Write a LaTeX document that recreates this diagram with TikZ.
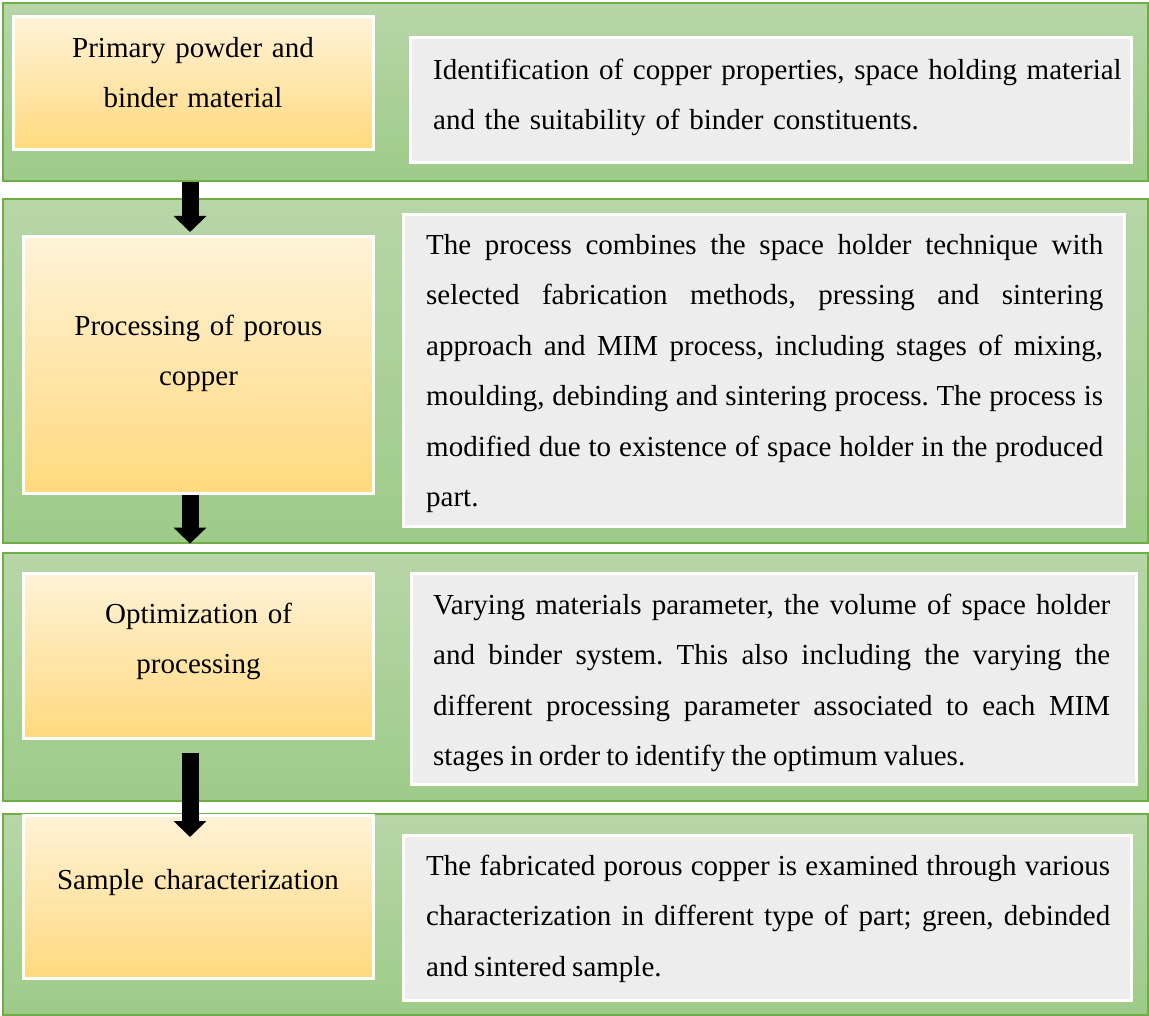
\documentclass[tikz,border=0pt]{standalone}
\usepackage{fontspec}
\setmainfont{Liberation Serif}[WordSpace=0.85]
\usetikzlibrary{arrows.meta}

\definecolor{bandtop}{RGB}{183,214,168}
\definecolor{bandbot}{RGB}{158,203,137}
\definecolor{bandline}{RGB}{112,173,71}
\definecolor{goldtop}{RGB}{255,242,216}
\definecolor{goldbot}{RGB}{255,217,125}
\definecolor{panel}{RGB}{237,237,237}

\begin{document}
\frenchspacing
\begin{tikzpicture}[x=1pt, y=-1pt,
    txt/.style={font=\fontsize{29}{50.5}\selectfont, inner sep=0pt,
      execute at begin node={\tolerance=9999\emergencystretch=0pt\hyphenpenalty=10000}},
    down/.style={line width=17pt, -{Triangle[width=32pt,length=16pt]}}]
\useasboundingbox (0,0) rectangle (1149,1016);

   \begin{scope}[every node/.style={draw=bandline, line width=1.2pt, top color=bandtop, bottom color=bandbot, minimum width=1145pt}]
    \node[minimum height=178pt] (band1) at (575.5,92) {};
    \node[minimum height=344pt] (band2) at (575.5,371) {};
    \node[minimum height=248pt] (band3) at (575.5,677) {};
    \node[minimum height=201pt] (band4) at (575.5,914.5) {};
   \end{scope}

   \begin{scope}[every node/.style={draw=white, line width=3pt, top color=goldtop, bottom color=goldbot}]
    \node[minimum width=360pt, minimum height=133pt] (p1) at (193.5,83) {};
    \node[minimum width=350pt, minimum height=257pt] (p2) at (198.5,365) {};
    \node[minimum width=350pt, minimum height=165pt] (p3) at (198.5,656) {};
    \node[minimum width=350pt, minimum height=163pt] (p4) at (198.5,897) {};
   \end{scope}

   \begin{scope}[every node/.style={draw=white, line width=3pt, fill=panel}]
    \node[minimum width=721pt, minimum height=125pt] (g1) at (771,100) {};
    \node[minimum width=721pt, minimum height=312pt] (g2) at (764,370.5) {};
    \node[minimum width=725pt, minimum height=211pt] (g3) at (774,679) {};
    \node[minimum width=728pt, minimum height=165pt] (g4) at (767.5,918) {};
   \end{scope}

   % stage names
   \begin{scope}[every node/.style={txt, anchor=north, text width=330pt, align=center}]
    \node (s1) at (193,21.65) {\strut Primary powder and\\ binder material};
    \node (s2) at (198.5,299.65) {\strut Processing of porous\\ copper};
    \node (s3) at (198.5,587.65) {\strut Optimization of\\ processing};
    \node (s4) at (198,853.65) {\strut Sample characterization};
   \end{scope}

   % stage descriptions
   \begin{scope}[every node/.style={txt, anchor=north west}]
    \node[text width=720pt, align=left] (d1) at (433,43.65) {\strut Identification of copper properties, space holding material\\ and the suitability of binder constituents.};
    \node[text width=677pt, align=justify] (d2) at (426,218.65) {\strut The process combines the space holder technique with\linebreak selected fabrication methods, pressing and sintering\linebreak approach and MIM process, including stages of mixing,\linebreak moulding, debinding and sintering process. The process is\linebreak modified due to existence of space holder in the produced\linebreak part.};
    \node[text width=677pt, align=justify] (d3) at (433,578.65) {\strut Varying materials parameter, the volume of space holder\linebreak and binder system. This also including the varying the\linebreak different processing parameter associated to each MIM\linebreak stages in order to identify the optimum values.};
    \node[text width=684pt, align=justify] (d4) at (426,839.65) {\strut The fabricated porous copper is examined through various\linebreak characterization in different type of part; green, debinded\linebreak and sintered sample.};
   \end{scope}

\coordinate (ax) at (190,0);
\coordinate (a3) at (190,837);
\draw[down, shorten >=3pt] (band1.south -| ax) -- (p2.north -| ax);
\draw[down] (p2.south -| ax) -- (band2.south -| ax);
\draw[down, shorten <=13pt] (p3.south -| ax) -- (a3);
\end{tikzpicture}
\end{document}
